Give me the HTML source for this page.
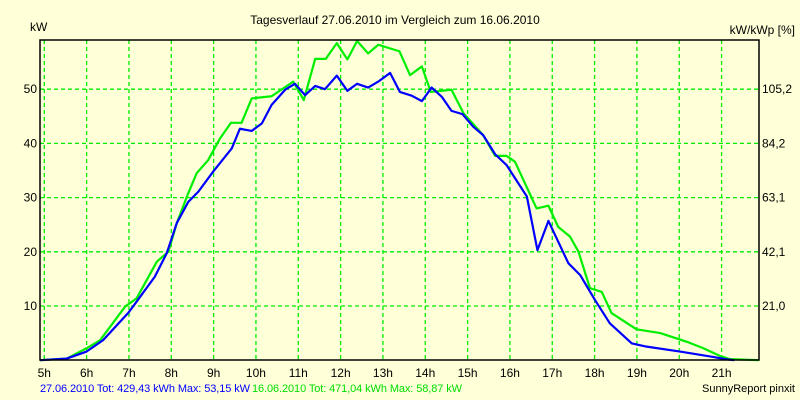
<!DOCTYPE html>
<html><head><meta charset="utf-8"><style>
html,body{margin:0;padding:0;background:#ffffd8;}
svg{display:block;font-family:"Liberation Sans",sans-serif;}
</style></head><body>
<svg id="chart" width="800" height="400" viewBox="0 0 800 400">
<rect x="0" y="0" width="800" height="400" fill="#ffffd8"/>
<text x="395" y="24" font-size="12" text-anchor="middle" fill="#000">Tagesverlauf 27.06.2010 im Vergleich zum 16.06.2010</text>
<text x="30" y="31" font-size="12" fill="#000">kW</text>
<text x="795" y="34" font-size="12" text-anchor="end" fill="#000">kW/kWp [%]</text>
<g id="grid"></g>
<g id="series"></g>
<rect x="40" y="40" width="719" height="320" fill="none" stroke="#000" stroke-width="1.5"/>
<g id="labels"></g>
<text x="40" y="392" font-size="11" fill="#0000ff" textLength="210">27.06.2010 Tot: 429,43 kWh Max: 53,15 kW</text>
<text x="252" y="392" font-size="11" fill="#00dd00" textLength="210">16.06.2010 Tot: 471,04 kWh Max: 58,87 kW</text>
<text x="795" y="392" font-size="11" text-anchor="end" fill="#000">SunnyReport pinxit</text>
</svg>
<script>
const xTicks = [5,6,7,8,9,10,11,12,13,14,15,16,17,18,19,20,21];
const yTicks = [10,20,30,40,50];
const yTickLabels = ["10","20","30","40","50"];
const rightTickLabels = ["21,0","42,1","63,1","84,2","105,2"];
const blueHours = [4.9,5.53,6.0,6.39,6.98,7.18,7.61,7.89,8.13,8.40,8.64,8.99,9.43,9.62,9.90,10.14,10.37,10.69,10.92,11.16,11.40,11.63,11.91,12.16,12.39,12.65,12.89,13.17,13.40,13.68,13.92,14.15,14.39,14.62,14.88,15.13,15.37,15.65,15.92,16.40,16.65,16.91,17.38,17.66,18.01,18.36,18.88,19.23,20.02,20.80,21.12,21.3];
const blueKW = [0,0.3,1.6,3.7,8.7,10.8,15.4,19.7,25.3,29.2,31.1,34.8,39.1,42.7,42.3,43.7,47.1,49.9,51.0,48.9,50.6,50.0,52.5,49.7,51.0,50.3,51.4,53.0,49.5,48.8,47.8,50.3,48.6,46.0,45.4,43.1,41.5,38.0,36.0,30.2,20.3,25.7,17.9,15.7,11.1,6.8,3.1,2.5,1.6,0.6,0.15,0];
const greenHours = [4.9,5.53,6.0,6.32,6.91,7.18,7.66,7.93,8.13,8.40,8.60,8.87,9.15,9.41,9.66,9.90,10.37,10.88,11.13,11.40,11.65,11.91,12.16,12.39,12.65,12.89,13.39,13.64,13.92,14.13,14.62,14.90,15.37,15.65,15.92,16.12,16.63,16.91,17.14,17.42,17.62,17.89,18.17,18.40,18.99,19.55,20.18,20.57,20.96,21.2,21.88];
const greenKW = [0,0.3,2.2,3.7,9.9,11.4,18.2,20.0,25.3,30.8,34.5,36.9,40.9,43.8,43.8,48.3,48.7,51.4,48.0,55.6,55.6,58.5,55.5,58.9,56.6,58.2,57.0,52.6,54.2,49.5,49.9,45.6,41.5,37.7,37.7,36.6,28.0,28.5,24.6,22.8,20.0,13.3,12.6,8.7,5.7,5.0,3.4,2.2,0.8,0.2,0];
const NS='http://www.w3.org/2000/svg';
function xs(h){return 44.3+(h-5)*42.33;}
function ys(v){return 360.2-v*5.42;}
const grid=document.getElementById('grid'), labels=document.getElementById('labels'), series=document.getElementById('series');
function mk(tag,attrs,parent){const e=document.createElementNS(NS,tag);for(const k in attrs)e.setAttribute(k,attrs[k]);parent.appendChild(e);return e;}
xTicks.forEach(h=>{
  const l=mk('line',{x1:xs(h),x2:xs(h),y1:40,y2:360,stroke:'#00ee00','stroke-width':1.3,'stroke-dasharray':'4,3'},grid);
  
  
  const t=mk('text',{x:xs(h),y:377,'font-size':12,'text-anchor':'middle',fill:'#000'},labels);
  t.textContent=h+'h';
  
  
});
yTicks.forEach((v,i)=>{
  const l=mk('line',{x1:40,x2:759,y1:ys(v),y2:ys(v),stroke:'#00ee00','stroke-width':1.3,'stroke-dasharray':'4,3'},grid);
  
  
  const t=mk('text',{x:37,y:ys(v)+4,'font-size':12,'text-anchor':'end',fill:'#000'},labels);
  t.textContent=yTickLabels[i];
  
  
  const r=mk('text',{x:762,y:ys(v)+4,'font-size':12,fill:'#000'},labels);
  r.textContent=rightTickLabels[i];
  
  
});
function line(hs,vs,color,name){
  const p=mk('polyline',{points:hs.map((h,i)=>xs(h)+','+ys(vs[i])).join(' '),fill:'none',stroke:color,'stroke-width':2.2,'stroke-linejoin':'round'},series);
  
  
}
line(greenHours,greenKW,'#00ee00','series-16-06-2010');
line(blueHours,blueKW,'#0000ff','series-27-06-2010');
</script>
</body></html>
